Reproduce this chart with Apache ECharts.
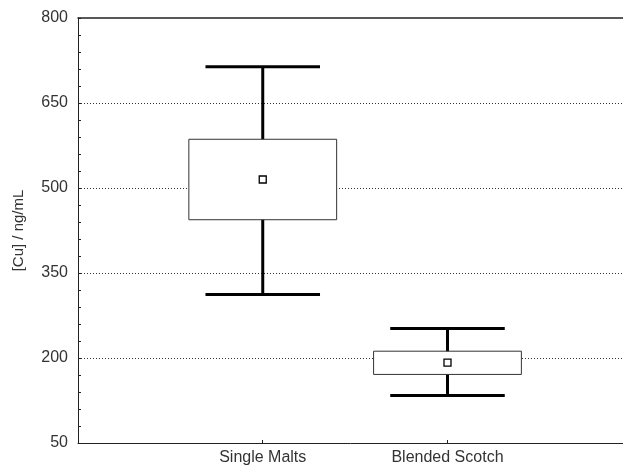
<!DOCTYPE html>
<html>
<head>
<meta charset="utf-8">
<script src="https://cdn.jsdelivr.net/npm/echarts@6/dist/echarts.min.js"></script>
<style>
  html, body { margin: 0; padding: 0; background: #fff; }
  #chart { width: 623px; height: 466px; }
</style>
</head>
<body>
<div id="chart"></div>
<script>
// Copper content by whisky type: mean, box range and whisker range
const categories = ['Single Malts', 'Blended Scotch'];
const means      = [515, 192];
const boxLow     = [444, 171];
const boxHigh    = [586, 212];
const whiskLow   = [312, 134];
const whiskHigh  = [714, 252];

const majorTicks = [50, 200, 350, 500, 650, 800];
const gridValues = [200, 350, 500, 650];
const minorTicks = [];
for (let v = 50; v <= 800; v += 30) minorTicks.push(v);

const seriesData = categories.map((c, i) => [i + 1, means[i], boxLow[i], boxHigh[i], whiskLow[i], whiskHigh[i]]);

const chart = echarts.init(document.getElementById('chart'), null, { renderer: 'canvas' });

const FONT = 'Liberation Sans, Arial, sans-serif';
const TEXT = '#333';

chart.setOption({
  animation: false,
  grid: { left: 78, top: 18, right: 0, bottom: 23, containLabel: false },
  xAxis: [
    {
      type: 'value', min: 0, max: 2.95, position: 'bottom',
      axisLine: { show: true, onZero: false, lineStyle: { color: '#222', width: 1 } },
      axisTick: { show: true, inside: true, length: 3, customValues: [1, 2], lineStyle: { color: '#222' } },
      axisLabel: {
        show: true, customValues: [1, 2], margin: 7,
        formatter: v => categories[Math.round(v) - 1] || '',
        color: TEXT, fontSize: 16, fontFamily: FONT
      },
      splitLine: { show: false }
    },
    {
      type: 'value', min: 0, max: 2.95, position: 'top',
      axisLine: { show: true, onZero: false, lineStyle: { color: '#222', width: 1.5 } },
      axisTick: { show: false }, axisLabel: { show: false }, splitLine: { show: false }
    }
  ],
  yAxis: [
    {
      type: 'value', min: 50, max: 800, position: 'left',
      name: '[Cu] / ng/mL', nameLocation: 'middle', nameGap: 52, nameRotate: 90,
      nameTextStyle: { color: TEXT, fontSize: 15, fontFamily: FONT },
      axisLine: { show: true, onZero: false, lineStyle: { color: '#222', width: 1 } },
      axisTick: { show: true, inside: true, length: 3, customValues: minorTicks, lineStyle: { color: '#222' } },
      axisLabel: { show: true, customValues: majorTicks, margin: 10, color: TEXT, fontSize: 16, fontFamily: FONT },
      splitLine: { show: false }
    },
    {
      type: 'value', min: 50, max: 800, position: 'left',
      axisLine: { show: false }, axisLabel: { show: false },
      axisTick: { show: false, customValues: gridValues },
      splitLine: { show: true, lineStyle: { color: '#333', type: [1, 2], width: 1 } }
    }
  ],
  series: [{
    type: 'custom',
    xAxisIndex: 0, yAxisIndex: 0,
    data: seriesData,
    renderItem: function (params, api) {
      const x = api.value(0);
      const pMean = api.coord([x, api.value(1)]);
      const pBoxL = api.coord([x - 0.4, api.value(2)]);
      const pBoxH = api.coord([x + 0.4, api.value(3)]);
      const pWL  = api.coord([x, api.value(4)]);
      const pWH  = api.coord([x, api.value(5)]);
      const capL = api.coord([x - 0.31, 0])[0];
      const capR = api.coord([x + 0.31, 0])[0];
      const lineStyle = { stroke: '#000', lineWidth: 3 };
      const sq = 7;
      return {
        type: 'group',
        children: [
          { type: 'line', shape: { x1: pWL[0], y1: pWL[1], x2: pWH[0], y2: pWH[1] }, style: lineStyle },
          { type: 'line', shape: { x1: capL, y1: pWH[1], x2: capR, y2: pWH[1] }, style: lineStyle },
          { type: 'line', shape: { x1: capL, y1: pWL[1], x2: capR, y2: pWL[1] }, style: lineStyle },
          { type: 'rect',
            shape: { x: pBoxL[0], y: pBoxH[1], width: pBoxH[0] - pBoxL[0], height: pBoxL[1] - pBoxH[1] },
            style: { fill: '#fff', stroke: '#333', lineWidth: 1 } },
          { type: 'rect',
            shape: { x: pMean[0] - sq / 2, y: pMean[1] - sq / 2, width: sq, height: sq },
            style: { fill: '#fff', stroke: '#000', lineWidth: 1.3 } }
        ]
      };
    }
  }]
});
</script>
</body>
</html>
